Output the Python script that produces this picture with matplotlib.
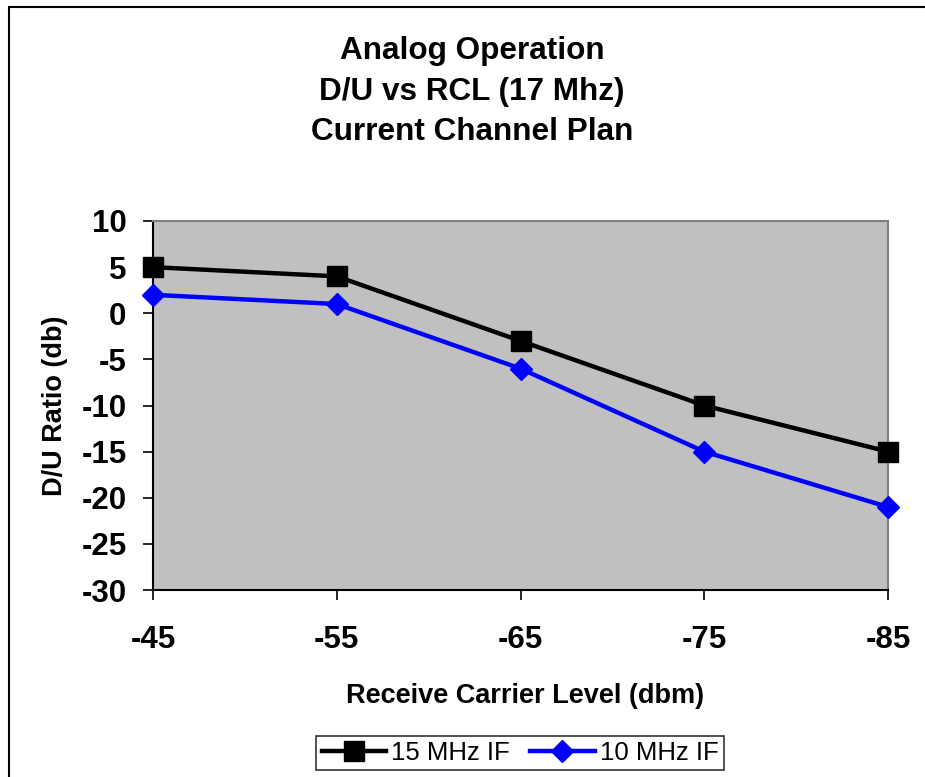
import matplotlib.pyplot as plt
from matplotlib.patches import Rectangle

plt.rcParams['font.family'] = ['Liberation Sans', 'DejaVu Sans']
plt.rcParams['axes.unicode_minus'] = False

# receive carrier level categories (dbm) and D/U ratio per IF filter
levels = ['-45', '-55', '-65', '-75', '-85']
du_15mhz = [5, 4, -3, -10, -15]
du_10mhz = [2, 1, -6, -15, -21]

W, H = 925, 777
fig = plt.figure(figsize=(W / 100, H / 100), dpi=100)

# outer chart border
fig.patches.append(Rectangle((9 / W, -0.05), 1.0, 1 - 7 / H + 0.05,
                             transform=fig.transFigure, fill=False,
                             edgecolor='black', linewidth=1.5))

ax = fig.add_axes([153 / W, 1 - 590 / H, (888 - 153) / W, (590 - 221) / H])
ax.set_facecolor('#C0C0C0')

x = range(len(levels))
ax.plot(x, du_15mhz, color='black', lw=3.2, marker='s', markersize=14,
        label='15 MHz IF', clip_on=False, zorder=3)
ax.plot(x, du_10mhz, color='#0000FF', lw=3.2, marker='D', markersize=11.5,
        label='10 MHz IF', clip_on=False, zorder=3)

ax.set_xlim(0, len(levels) - 1)
ax.set_ylim(-30, 10)
ax.set_yticks(range(-30, 11, 5))
ax.set_xticks(list(x))
ax.set_xticklabels(levels)

for side in ['top', 'right']:
    ax.spines[side].set_color('#808080')
    ax.spines[side].set_linewidth(1.5)
for side in ['left', 'bottom']:
    ax.spines[side].set_color('black')
    ax.spines[side].set_linewidth(1.5)

ax.tick_params(axis='y', direction='out', length=7, width=1.2, pad=12,
               labelsize=22.5)
ax.tick_params(axis='x', direction='out', length=7, width=1.2, pad=18.5,
               labelsize=22.5)
for lbl in ax.get_xticklabels() + ax.get_yticklabels():
    lbl.set_fontweight('bold')

fig.text(55 / W, 1 - 406 / H, 'D/U Ratio (db)', rotation=90, ha='center',
         va='center', fontsize=19.5, fontweight='bold')
fig.text(525 / W, 1 - 703 / H, 'Receive Carrier Level (dbm)', ha='center',
         va='baseline', fontsize=19.5, fontweight='bold')

titles = ['Analog Operation', 'D/U vs RCL (17 Mhz)', 'Current Channel Plan']
baselines = [59, 100, 140]
for t, b in zip(titles, baselines):
    fig.text(472 / W, 1 - b / H, t, ha='center', va='baseline',
             fontsize=22.7, fontweight='bold')

leg = fig.legend(loc='center', bbox_to_anchor=(520 / W, 1 - 753 / H), ncol=2,
                 fontsize=18.5, frameon=True, fancybox=False, handlelength=2.5,
                 handletextpad=0.2, columnspacing=0.8, borderpad=0.2,
                 borderaxespad=0)
leg.get_frame().set_edgecolor('black')
leg.get_frame().set_linewidth(1.2)

fig.savefig('out.png', dpi=100)
